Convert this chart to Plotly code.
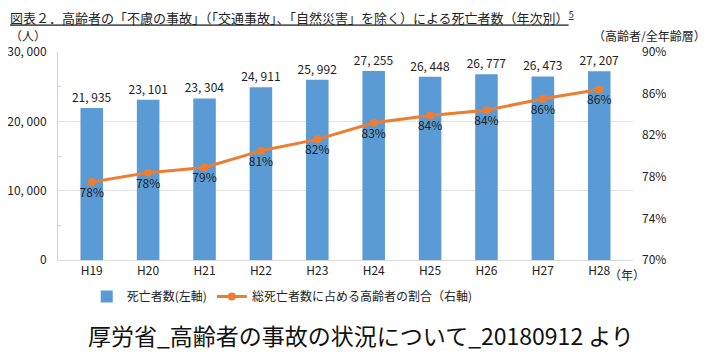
import plotly.graph_objects as go

years = ["H19", "H20", "H21", "H22", "H23", "H24", "H25", "H26", "H27", "H28"]
deaths = [21935, 23101, 23304, 24911, 25992, 27255, 26448, 26777, 26473, 27207]
death_labels = ["21, 935", "23, 101", "23, 304", "24, 911", "25, 992",
                "27, 255", "26, 448", "26, 777", "26, 473", "27, 207"]
share = [77.5, 78.4, 78.9, 80.5, 81.6, 83.2, 83.9, 84.4, 85.5, 86.4]
share_labels = ["78%", "78%", "79%", "81%", "82%", "83%", "84%", "84%", "86%", "86%"]
left_ticks = [0, 10000, 20000, 30000]
left_ticktext = ["0", "10, 000", "20, 000", "30, 000"]
right_ticks = [70, 74, 78, 82, 86, 90]
right_ticktext = ["70%", "74%", "78%", "82%", "86%", "90%"]

FONT = "Noto Sans CJK JP"
BLUE = "#5B9BD5"
ORANGE = "#ED7D31"
TXT = "#222222"

fig = go.Figure()
fig.add_trace(go.Bar(
    x=years, y=deaths, name="死亡者数(左軸)",
    marker=dict(color=BLUE, line=dict(width=0)),
    width=0.4,
    text=death_labels, textposition="outside", constraintext="none",
    textfont=dict(family=FONT, size=12, color=TXT),
    cliponaxis=False,
))
fig.add_trace(go.Scatter(
    x=years, y=share, name="総死亡者数に占める高齢者の割合（右軸)",
    yaxis="y2", mode="lines+markers+text",
    line=dict(color=ORANGE, width=3),
    marker=dict(color=ORANGE, size=8),
    text=share_labels, textposition="bottom center",
    textfont=dict(family=FONT, size=12, color=TXT),
    cliponaxis=False,
))

fig.update_layout(
    width=720, height=360,
    margin=dict(l=50, r=95, t=44, b=108, autoexpand=False),
    paper_bgcolor="white", plot_bgcolor="white",
    font=dict(family=FONT, size=12, color=TXT),
    bargap=0.6,
    showlegend=True,
    legend=dict(orientation="h", x=0.39, xanchor="center", y=-0.175, yanchor="middle",
                font=dict(family=FONT, size=12, color=TXT), itemwidth=30,
                traceorder="normal"),
    xaxis=dict(
        showgrid=False, showline=True, linecolor="#D9D9D9", linewidth=1,
        ticks="", tickfont=dict(family=FONT, size=12, color=TXT), automargin=False,
    ),
    yaxis=dict(
        range=[0, 30000], tickvals=left_ticks, ticktext=left_ticktext,
        showgrid=True, gridcolor="#E3E3E3", gridwidth=1,
        showline=True, linecolor="#BDD7EE", linewidth=1,
        ticks="", ticklabelstandoff=8, automargin=False,
        tickfont=dict(family=FONT, size=12, color=TXT),
        zeroline=False,
        minor=dict(tickvals=[5000, 15000, 25000], ticks="inside", ticklen=3,
                   tickcolor="#BDD7EE", showgrid=False),
    ),
    yaxis2=dict(
        range=[70, 90], tickvals=right_ticks, ticktext=right_ticktext,
        overlaying="y", side="right", showgrid=False, showline=False,
        ticks="", ticklabelstandoff=8, zeroline=False, automargin=False,
        tickfont=dict(family=FONT, size=12, color=TXT),
    ),
)

fig.add_annotation(
    xref="paper", yref="paper", x=-0.087, y=1.0, xanchor="left", yanchor="bottom",
    yshift=23,
    text="<u>図表２．高齢者の「不慮の事故」（「交通事故」、「自然災害」を除く）による死亡者数（年次別）<sup>5</sup></u>",
    showarrow=False, font=dict(family=FONT, size=13, color=TXT),
)
fig.add_annotation(
    xref="paper", yref="paper", x=-0.087, y=1.0, xanchor="left", yanchor="bottom",
    yshift=8, height=14, valign="middle", text="（人）", showarrow=False,
    font=dict(family=FONT, size=12, color=TXT),
)
fig.add_annotation(
    xref="paper", yref="paper", x=1.13, y=1.0, xanchor="right", yanchor="bottom",
    yshift=8, height=14, valign="middle", text="（高齢者/全年齢層）", showarrow=False,
    font=dict(family=FONT, size=12, color=TXT),
)
fig.add_annotation(
    xref="paper", yref="paper", x=0.955, y=0.0, xanchor="left", yanchor="top",
    yshift=-4, text="（年）", showarrow=False,
    font=dict(family=FONT, size=12, color=TXT),
)
fig.add_annotation(
    xref="paper", yref="paper", x=0.5, y=-0.36, xanchor="center", yanchor="middle",
    xshift=15, text="厚労省_高齢者の事故の状況について_20180912 より", showarrow=False,
    font=dict(family=FONT, size=23, color="#111111"),
)

fig.write_html("out.html")
